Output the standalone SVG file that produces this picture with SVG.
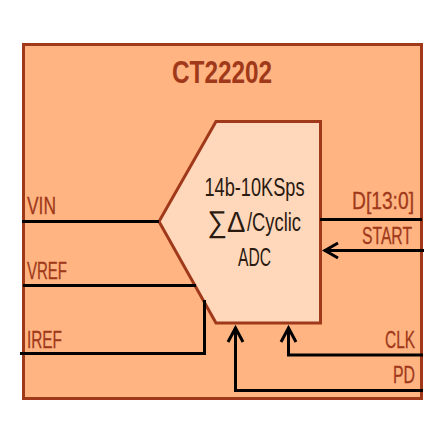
<svg xmlns="http://www.w3.org/2000/svg" width="443" height="443" viewBox="0 0 443 443">
<style>
text{font-family:"Liberation Sans Narrow","Liberation Sans",sans-serif}
.l{font-size:24px;fill:#a0391a;stroke:#a0391a;stroke-width:.3}
.a{font-size:25px;fill:#2a1a10;text-anchor:middle}
.w{fill:none;stroke:#000;stroke-width:3;stroke-linejoin:miter}
</style>
<g id="chip"><rect x="23.500" y="44.500" width="398" height="354" fill="#ffb482" stroke="#a0391a" stroke-width="3"/>
<text x="222" y="83" text-anchor="middle" font-size="31" font-weight="bold" fill="#a0391a" textLength="100" lengthAdjust="spacingAndGlyphs">CT22202</text></g>
<g id="adc"><path d="M216 121.500H320.500V323H216L159 221.500Z" fill="#ffd8bc" stroke="#a0391a" stroke-width="3"/>
<text class="a" x="254.500" y="196" textLength="100" lengthAdjust="spacingAndGlyphs">14b-10KSps</text>
<text class="a" x="226.500" y="232" font-size="30" style="font-size:30px" textLength="38" lengthAdjust="spacingAndGlyphs">∑Δ</text>
<text class="a" x="274" y="231" textLength="54" lengthAdjust="spacingAndGlyphs">/Cyclic</text>
<text class="a" x="254.500" y="266" textLength="33" lengthAdjust="spacingAndGlyphs">ADC</text></g>
<g id="connectors">
<path class="w" d="M22 221.500H159"/>
<path class="w" d="M23 285.500H196"/>
<path class="w" d="M20 353.500H204.500V300"/>
<path class="w" d="M320 219.500H422"/>
<path class="w" d="M324 250.500H424"/>
<path class="w" d="M338 243L325 250.500L338 258"/>
<path class="w" d="M423 355H288.500V328"/>
<path class="w" d="M281 342L288.500 328L296 342"/>
<path class="w" d="M423 390.500H235.500V328"/>
<path class="w" d="M228 342L235.500 328L243 342"/>
</g>
<g id="labels">
<text class="l" x="27" y="214" textLength="29" lengthAdjust="spacingAndGlyphs">VIN</text>
<text class="l" x="27" y="279" textLength="40" lengthAdjust="spacingAndGlyphs">VREF</text>
<text class="l" x="27" y="348" textLength="35" lengthAdjust="spacingAndGlyphs">IREF</text>
<text class="l" x="414" y="209" text-anchor="end" textLength="62" lengthAdjust="spacingAndGlyphs">D[13:0]</text>
<text class="l" x="412" y="244" text-anchor="end" textLength="50" lengthAdjust="spacingAndGlyphs">START</text>
<text class="l" x="415" y="348" text-anchor="end" textLength="30" lengthAdjust="spacingAndGlyphs">CLK</text>
<text class="l" x="415" y="383" text-anchor="end" textLength="22" lengthAdjust="spacingAndGlyphs">PD</text>
</g>
</svg>
